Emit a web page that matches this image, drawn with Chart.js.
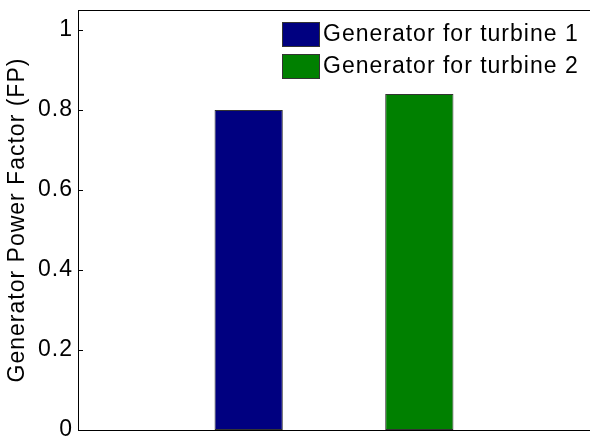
<!DOCTYPE html>
<html>
<head>
<meta charset="utf-8">
<script src="https://cdn.jsdelivr.net/npm/chart.js@4.4.0/dist/chart.umd.min.js"></script>
<style>
    html, body { margin: 0; padding: 0; background: #fff; overflow: hidden; }
    canvas { display: block; }
</style>
</head>
<body>
<canvas id="chart" width="590" height="439"></canvas>
<script>
// data
const categories = ['Generator for turbine 1', 'Generator for turbine 2'];
const xPositions = [1, 2];
const powerFactor = [0.80, 0.84];
const barColors = ['#000080', '#008000'];
const yTicks = [0, 0.2, 0.4, 0.6, 0.8, 1];
const yTitle = 'Generator Power Factor (FP)';

const FONT = "'Liberation Sans', Arial, Helvetica, sans-serif";
const FONT_SIZE = 23;

// matlab's hinted text runs a bit wide
const spacingPlugin = {
    id: 'spacing',
    beforeUpdate(chart) { chart.ctx.letterSpacing = '1px'; },
    beforeDraw(chart) { chart.ctx.letterSpacing = '1px'; }
};

// box round the plot area plus inward ticks on the left
const framePlugin = {
    id: 'frame',
    afterDatasetsDraw(chart) {
        const { ctx, chartArea: a, scales: { y } } = chart;
        ctx.save();
        ctx.strokeStyle = '#000';
        ctx.lineWidth = 1;
        ctx.beginPath();
        yTicks.forEach(v => {
            const py = Math.round(y.getPixelForValue(v)) + 0.5;
            ctx.moveTo(a.left, py);
            ctx.lineTo(a.left + 5, py);
        });
        ctx.stroke();
        ctx.strokeRect(Math.round(a.left) + 0.5, Math.round(a.top) + 0.5,
            Math.round(a.right - a.left), Math.round(a.bottom - a.top));
        ctx.restore();
    }
};

// legend in the upper right of the axes
const legendPlugin = {
    id: 'boxLegend',
    afterDraw(chart) {
        const { ctx, chartArea: a } = chart;
        const x0 = a.left + 204;
        const y0 = a.top + 12;
        const rowH = 32;
        ctx.save();
        ctx.font = `${FONT_SIZE}px ${FONT}`;
        ctx.textBaseline = 'middle';
        chart.data.datasets.forEach((ds, i) => {
            const ty = y0 + i * rowH;
            ctx.fillStyle = ds.backgroundColor;
            ctx.fillRect(x0, ty, 37, 24);
            ctx.strokeStyle = '#333';
            ctx.strokeRect(x0 + 0.5, ty + 0.5, 37, 24);
            ctx.fillStyle = '#000';
            ctx.fillText(ds.label, x0 + 41, ty + 13);
        });
        ctx.restore();
    }
};

const datasets = categories.map((name, i) => ({
    label: name,
    data: [{ x: xPositions[i], y: powerFactor[i] }],
    backgroundColor: barColors[i],
    borderColor: '#333',
    borderWidth: 1,
    borderSkipped: false,
    grouped: false,
    barPercentage: 0.4,
    categoryPercentage: 1
}));

new Chart(document.getElementById('chart'), {
    type: 'bar',
    data: { datasets },
    plugins: [spacingPlugin, framePlugin, legendPlugin],
    options: {
        responsive: false,
        animation: false,
        // the right edge of the axes box sits just past the picture
        layout: { padding: { top: 10, right: -8, bottom: 9, left: 0 } },
        plugins: {
            legend: { display: false },
            tooltip: { enabled: false }
        },
        scales: {
            x: {
                type: 'linear',
                display: false,
                offset: false,
                grid: { offset: false },
                min: 0,
                max: 3,
                ticks: { stepSize: 1 }
            },
            y: {
                min: 0,
                max: 1.05,
                afterFit: s => {
                    s.width = 78;
                    s.paddingTop = 0;
                    s.paddingBottom = 0;
                },
                afterBuildTicks: s => {
                    s.ticks = yTicks.map(v => ({ value: v }));
                },
                grid: { display: false, drawTicks: false },
                border: { display: false },
                ticks: {
                    color: '#000',
                    padding: 5,
                    font: { family: FONT, size: FONT_SIZE },
                    callback: v => String(Math.round(v * 10) / 10)
                },
                title: {
                    display: true,
                    text: yTitle,
                    color: '#000',
                    padding: { top: 4, bottom: 0 },
                    font: { family: FONT, size: FONT_SIZE }
                }
            }
        }
    }
});
</script>
</body>
</html>
